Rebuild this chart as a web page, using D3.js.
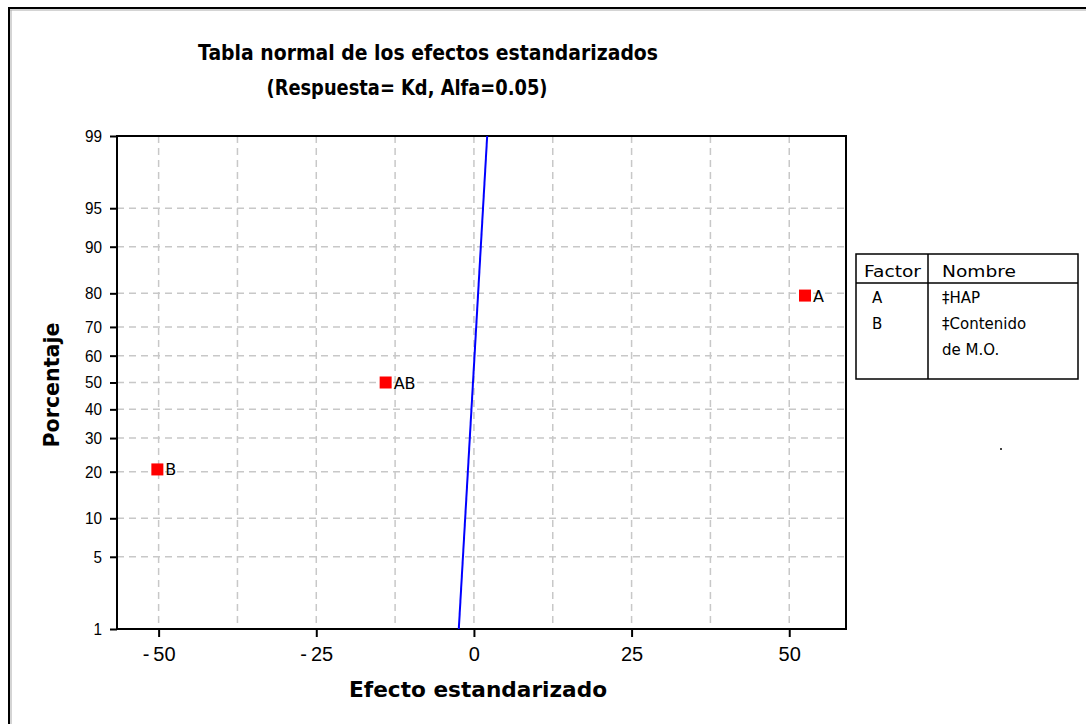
<!DOCTYPE html>
<html>
<head>
<meta charset="utf-8">
<script src="https://cdn.jsdelivr.net/npm/d3@7"></script>
<style>
  body { margin: 0; background: #fff; }
  svg { display: block; }
  text { font-family: "DejaVu Sans", "Liberation Sans", sans-serif; fill: #000; }
</style>
</head>
<body>
<div id="chart"></div>
<script>
// data
const factors = ["A", "B", "AB"];
const effects = [52.5, -50.2, -14.0];
const percents = [79.4, 20.6, 50];
const fitEffects = [-2.4, 2.1];
const fitPercents = [1, 99];
const yTicks = [1, 5, 10, 20, 30, 40, 50, 60, 70, 80, 90, 95, 99];
const xTicks = [-50, -25, 0, 25, 50];
const xGrid = [-50, -37.5, -25, -12.5, 0, 12.5, 25, 37.5, 50];
const legendFactors = ["A", "B"];
const legendNames = [["\u2021HAP"], ["\u2021Contenido", "de M.O."]];

// inverse normal cdf (Acklam)
function qnorm(p) {
    const a = [-3.969683028665376e+01, 2.209460984245205e+02, -2.759285104469687e+02, 1.383577518672690e+02, -3.066479806614716e+01, 2.506628277459239e+00];
    const b = [-5.447609879822406e+01, 1.615858368580409e+02, -1.556989798598866e+02, 6.680131188771972e+01, -1.328068155288572e+01];
    const c = [-7.784894002430293e-03, -3.223964580411365e-01, -2.400758277161838e+00, -2.549732539343734e+00, 4.374664141464968e+00, 2.938163982698783e+00];
    const d = [7.784695709041462e-03, 3.224671290700398e-01, 2.445134137142996e+00, 3.754408661907416e+00];
    const pl = 0.02425;
    if (p < pl) {
        const q = Math.sqrt(-2 * Math.log(p));
        return (((((c[0] * q + c[1]) * q + c[2]) * q + c[3]) * q + c[4]) * q + c[5]) / ((((d[0] * q + d[1]) * q + d[2]) * q + d[3]) * q + 1);
    }
    if (p > 1 - pl) {
        const q = Math.sqrt(-2 * Math.log(1 - p));
        return -(((((c[0] * q + c[1]) * q + c[2]) * q + c[3]) * q + c[4]) * q + c[5]) / ((((d[0] * q + d[1]) * q + d[2]) * q + d[3]) * q + 1);
    }
    const q = p - 0.5, r = q * q;
    return (((((a[0] * r + a[1]) * r + a[2]) * r + a[3]) * r + a[4]) * r + a[5]) * q / (((((b[0] * r + b[1]) * r + b[2]) * r + b[3]) * r + b[4]) * r + 1);
}

let margin = { top: 136, left: 117 },
    width = 729,
    height = 493;

let svg = d3.select("#chart")
    .append("svg")
    .attr("width", 1086)
    .attr("height", 724);

// outer frame (top and left only)
svg.append("line").attr("x1", 8).attr("y1", 8).attr("x2", 1086).attr("y2", 8)
    .style("stroke", "#000").style("stroke-width", 2);
svg.append("line").attr("x1", 9).attr("y1", 8).attr("x2", 9).attr("y2", 724)
    .style("stroke", "#000").style("stroke-width", 2);
svg.append("line").attr("x1", 10).attr("y1", 10).attr("x2", 1086).attr("y2", 10)
    .style("stroke", "#aaa").style("stroke-width", 1);
svg.append("line").attr("x1", 11).attr("y1", 10).attr("x2", 11).attr("y2", 724)
    .style("stroke", "#aaa").style("stroke-width", 1);

// titles
svg.append("text").attr("x", 428).attr("y", 60).attr("text-anchor", "middle")
    .style("font-size", "22px").style("font-weight", "bold")
    .attr("textLength", 460).attr("lengthAdjust", "spacingAndGlyphs")
    .text("Tabla normal de los efectos estandarizados");
svg.append("text").attr("x", 407).attr("y", 95).attr("text-anchor", "middle")
    .style("font-size", "22px").style("font-weight", "bold")
    .attr("textLength", 281).attr("lengthAdjust", "spacingAndGlyphs")
    .text("(Respuesta= Kd, Alfa=0.05)");

let g = svg.append("g")
    .attr("transform", `translate(${margin.left}, ${margin.top})`);

let x = d3.scaleLinear().domain([-56.6, 59]).range([0, width]);
let y = d3.scaleLinear().domain([qnorm(0.01), qnorm(0.99)]).range([height, 0]);
const py = p => y(qnorm(p / 100));

// grid
g.selectAll(".vgrid")
    .data(xGrid)
    .enter()
    .append("line")
    .attr("x1", d => x(d)).attr("x2", d => x(d))
    .attr("y1", 0).attr("y2", height)
    .style("stroke", "#c8c8c8").style("stroke-width", 1.5).style("stroke-dasharray", "7,5");

g.selectAll(".hgrid")
    .data(yTicks.filter(d => d > 1 && d < 99))
    .enter()
    .append("line")
    .attr("x1", 0).attr("x2", width)
    .attr("y1", d => py(d)).attr("y2", d => py(d))
    .style("stroke", "#c8c8c8").style("stroke-width", 1.5).style("stroke-dasharray", "7,5");

// axes
let yAxis = g.append("g")
    .call(d3.axisLeft(y)
        .tickValues(yTicks.map(p => qnorm(p / 100)))
        .tickFormat((d, i) => yTicks[i])
        .tickSize(7)
        .tickSizeOuter(0)
        .tickPadding(8));
yAxis.select(".domain").remove();
yAxis.selectAll(".tick line").style("stroke-width", 2);
yAxis.selectAll("text")
    .style("font-size", "17px")
    .style("font-family", "'Liberation Sans', sans-serif")
    .each(function (d, i) {
        d3.select(this).attr("textLength", 8.5 * String(yTicks[i]).length)
            .attr("lengthAdjust", "spacingAndGlyphs");
    });

let xAxis = g.append("g")
    .attr("transform", `translate(0, ${height})`)
    .call(d3.axisBottom(x)
        .tickValues(xTicks)
        .tickSize(8)
        .tickSizeOuter(0)
        .tickPadding(10));
xAxis.select(".domain").remove();
xAxis.selectAll(".tick line").style("stroke-width", 2);
xAxis.selectAll("text")
    .style("font-size", "20px")
    .style("font-family", "'Liberation Sans', sans-serif")
    .each(function (d) {
        const s = String(d).replace("-", "-\u2009");
        d3.select(this).text(s);
    });

// plot frame
g.append("rect")
    .attr("width", width).attr("height", height)
    .style("fill", "none").style("stroke", "#000").style("stroke-width", 2);

// fitted line
g.append("line")
    .attr("x1", x(fitEffects[0])).attr("y1", py(fitPercents[0]))
    .attr("x2", x(fitEffects[1])).attr("y2", py(fitPercents[1]))
    .style("stroke", "#0000ff").style("stroke-width", 2);

// points
const points = factors.map((f, i) => ({ name: f, effect: effects[i], pct: percents[i] }));
g.selectAll(".pt")
    .data(points)
    .enter()
    .append("rect")
    .attr("x", d => x(d.effect) - 6)
    .attr("y", d => py(d.pct) - 6)
    .attr("width", 12).attr("height", 12)
    .style("fill", "#ff0000");
g.selectAll(".ptlabel")
    .data(points)
    .enter()
    .append("text")
    .attr("x", d => x(d.effect) + 8)
    .attr("y", d => py(d.pct) + 6)
    .style("font-size", "16px")
    .text(d => d.name);

// axis titles
svg.append("text").attr("x", 478).attr("y", 697).attr("text-anchor", "middle")
    .style("font-size", "21px").style("font-weight", "bold")
    .attr("textLength", 258).attr("lengthAdjust", "spacingAndGlyphs")
    .text("Efecto estandarizado");
svg.append("text")
    .attr("transform", "translate(59, 385) rotate(-90)")
    .attr("text-anchor", "middle")
    .style("font-size", "21px").style("font-weight", "bold")
    .attr("textLength", 125).attr("lengthAdjust", "spacingAndGlyphs")
    .text("Porcentaje");

// legend table
let leg = svg.append("g").attr("transform", "translate(856, 254)");
leg.append("rect").attr("width", 222).attr("height", 125)
    .style("fill", "#fff").style("stroke", "#000").style("stroke-width", 1.5);
leg.append("line").attr("x1", 72).attr("x2", 72).attr("y1", 0).attr("y2", 125)
    .style("stroke", "#000").style("stroke-width", 1.5);
leg.append("line").attr("x1", 0).attr("x2", 222).attr("y1", 29).attr("y2", 29)
    .style("stroke", "#000").style("stroke-width", 1.5);
leg.append("text").attr("x", 8).attr("y", 23).style("font-size", "15px")
    .attr("textLength", 57).attr("lengthAdjust", "spacingAndGlyphs").text("Factor");
leg.append("text").attr("x", 86).attr("y", 23).style("font-size", "15px")
    .attr("textLength", 74).attr("lengthAdjust", "spacingAndGlyphs").text("Nombre");
leg.selectAll(".lf")
    .data(legendFactors)
    .enter()
    .append("text")
    .attr("x", 16)
    .attr("y", (d, i) => 49 + i * 26)
    .style("font-size", "15px")
    .text(d => d);
legendNames.forEach((lines, i) => {
    lines.forEach((t, j) => {
        leg.append("text")
            .attr("x", 86)
            .attr("y", 49 + (i + j) * 26)
            .style("font-size", "15px")
            .text(t);
    });
});

// stray dot
svg.append("rect").attr("x", 1000).attr("y", 448).attr("width", 2).attr("height", 2).style("fill", "#444");
</script>
</body>
</html>
